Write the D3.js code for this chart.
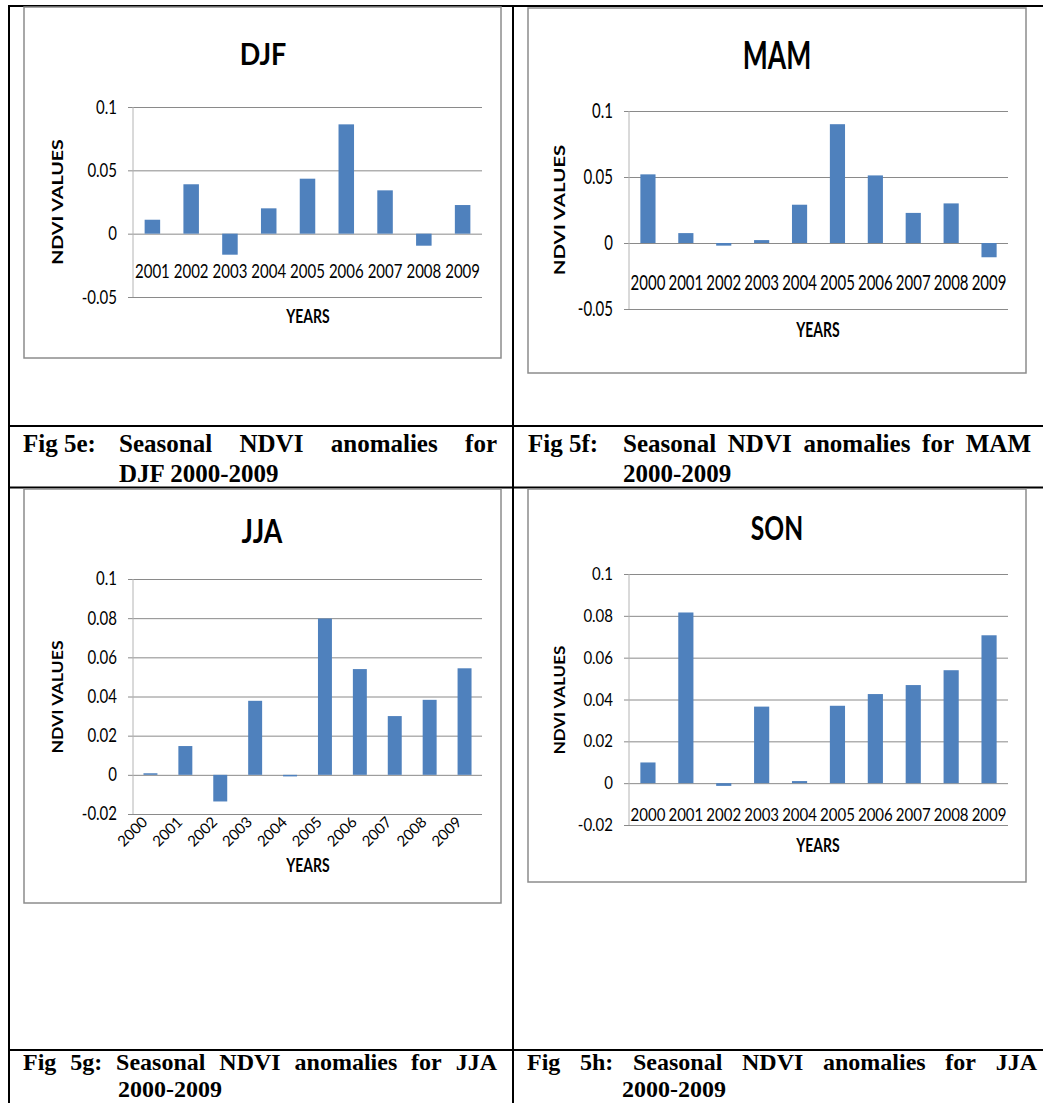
<!DOCTYPE html>
<html><head><meta charset="utf-8">
<script src="https://cdn.jsdelivr.net/npm/d3@7"></script>
<style>body{margin:0;background:#fff} svg{display:block}</style>
</head><body>
<svg id="c" width="1043" height="1103"></svg>
<script>
// ---------- DATA ----------
const djfYears = ["2001","2002","2003","2004","2005","2006","2007","2008","2009"];
const djfValues = [0.011, 0.039, -0.0166, 0.020, 0.0434, 0.0863, 0.0342, -0.0095, 0.0226];
const mamYears = ["2000","2001","2002","2003","2004","2005","2006","2007","2008","2009"];
const mamValues = [0.052, 0.0075, -0.002, 0.0022, 0.029, 0.090, 0.0512, 0.0228, 0.030, -0.0108];
const jjaYears = ["2000","2001","2002","2003","2004","2005","2006","2007","2008","2009"];
const jjaValues = [0.0008, 0.0147, -0.0136, 0.0378, -0.0008, 0.0798, 0.054, 0.030, 0.0383, 0.0544];
const sonYears = ["2000","2001","2002","2003","2004","2005","2006","2007","2008","2009"];
const sonValues = [0.0099, 0.0816, -0.0013, 0.0366, 0.001, 0.037, 0.0426, 0.0469, 0.054, 0.0707];
const djfTicks = [-0.05, 0, 0.05, 0.1];
const mamTicks = [-0.05, 0, 0.05, 0.1];
const jjaTicks = [-0.02, 0, 0.02, 0.04, 0.06, 0.08, 0.1];
const sonTicks = [-0.02, 0, 0.02, 0.04, 0.06, 0.08, 0.1];
const panelTitles = ["DJF", "MAM", "JJA", "SON"];
const xAxisTitle = "YEARS";
const yAxisTitle = "NDVI VALUES";
const captionLead = ["Fig 5e:", "Fig 5f:", "Fig 5g:", "Fig 5h:"];
const captionLine1 = ["Seasonal NDVI anomalies for", "Seasonal NDVI anomalies for MAM",
                      "Seasonal NDVI anomalies for JJA", "Seasonal NDVI anomalies for JJA"];
const captionLine2 = ["DJF 2000-2009", "2000-2009", "2000-2009", "2000-2009"];

// ---------- LAYOUT ----------
const svg = d3.select("#c");
const BAR = "#4F81BD", GRID = "#8a8a8a", AXIS = "#b4b4b4", FRAME = "#8c8c8c";

const panels = [
  {title: panelTitles[0], years: djfYears, values: djfValues, ticks: djfTicks,
   frame: [24, 7, 501, 358], left: 133, right: 482, top: 107, bottom: 297,
   sy: 1.25, titlePos: [263, 65, 27, 1.1], xLabY: 278, rot: false,
   xTitle: [308, 323, 1.35], yTitle: [63, 202, 1.31]},
  {title: panelTitles[1], years: mamYears, values: mamValues, ticks: mamTicks,
   frame: [528, 8, 1026, 373], left: 629, right: 1008, top: 111, bottom: 309,
   sy: 1.38, titlePos: [777, 69, 26.5, 1.42], xLabY: 290, rot: false,
   xTitle: [818, 337, 1.5], yTitle: [565, 210, 1.36]},
  {title: panelTitles[2], years: jjaYears, values: jjaValues, ticks: jjaTicks,
   frame: [24, 489, 501, 903], left: 133, right: 482, top: 579, bottom: 814,
   sy: 1.23, titlePos: [262, 543, 26.7, 1.2], xLabY: 814, rot: true,
   xTitle: [308, 872, 1.35], yTitle: [63, 697, 1.18]},
  {title: panelTitles[3], years: sonYears, values: sonValues, ticks: sonTicks,
   frame: [528, 489, 1026, 882], left: 629, right: 1008, top: 574, bottom: 825,
   sy: 1.17, titlePos: [777, 540, 24.6, 1.3], xLabY: 821, rot: false,
   xTitle: [818, 852, 1.3], yTitle: [565, 700, 1.13]}
];

function stext(parent, x, y, str, size, weight, sy, rotate) {
  return parent.append("text")
    .attr("transform", `translate(${x},${y}) scale(1,${sy})${rotate ? " rotate(-90)" : ""}`)
    .attr("text-anchor", "middle")
    .attr("font-family", "Lato, 'Open Sans', sans-serif")
    .attr("font-size", size).attr("font-weight", weight).attr("fill", "#000")
    .text(str);
}

function drawPanel(p) {
  const g = svg.append("g");
  g.append("rect").attr("x", p.frame[0]).attr("y", p.frame[1])
    .attr("width", p.frame[2] - p.frame[0]).attr("height", p.frame[3] - p.frame[1])
    .attr("fill", "#fff").attr("stroke", FRAME).attr("stroke-width", 1.5);

  const x = d3.scaleBand().domain(p.years).range([p.left, p.right]).paddingInner(0.6).paddingOuter(0.3);
  const y = d3.scaleLinear().domain([p.ticks[0], p.ticks[p.ticks.length - 1]]).range([p.bottom, p.top]);

  // gridlines
  const grid = g.append("g").attr("transform", `translate(${p.left},0)`)
    .call(d3.axisLeft(y).tickValues(p.ticks).tickSize(-(p.right - p.left)).tickFormat(""));
  grid.select(".domain").remove();
  grid.selectAll("line").attr("stroke", GRID).attr("stroke-width", 1);

  // bars
  g.selectAll("rect.bar").data(p.values).join("rect").attr("class", "bar")
    .attr("x", (d, i) => x(p.years[i])).attr("width", x.bandwidth())
    .attr("y", d => y(Math.max(0, d)))
    .attr("height", d => Math.abs(y(d) - y(0)))
    .attr("fill", BAR);

  // y axis (ticks + labels)
  const ya = g.append("g").attr("transform", `translate(${p.left},0)`)
    .call(d3.axisLeft(y).tickValues(p.ticks).tickSize(5).tickPadding(11).tickFormat(d => String(d)));
  ya.select(".domain").remove();
  ya.selectAll("line").attr("stroke", GRID);
  ya.selectAll("text").attr("font-family", "Lato, 'Open Sans', sans-serif").attr("font-size", 15)
    .attr("fill", "#000").attr("transform", `scale(1,${p.sy})`);
  g.append("line").attr("x1", p.left).attr("x2", p.left).attr("y1", p.top).attr("y2", p.bottom)
    .attr("stroke", AXIS).attr("stroke-width", 1);

  // x labels
  const xa = g.append("g").attr("transform", `translate(0,${p.xLabY})`)
    .call(d3.axisBottom(x).tickSize(0).tickPadding(0));
  xa.select(".domain").remove();
  const xt = xa.selectAll("text").attr("font-family", "Lato, 'Open Sans', sans-serif")
    .attr("font-size", 15).attr("fill", "#000").attr("y", 0).attr("dy", 0);
  if (p.rot) {
    xt.attr("text-anchor", "end").attr("transform", "translate(-2,9) rotate(-45)");
  } else {
    xt.attr("transform", `scale(1,${p.sy})`);
  }

  // titles
  stext(g, p.titlePos[0], p.titlePos[1], p.title, p.titlePos[2], 700, p.titlePos[3], false);
  stext(g, p.xTitle[0], p.xTitle[1], xAxisTitle, 14, 700, p.xTitle[2], false);
  stext(g, p.yTitle[0], p.yTitle[1], yAxisTitle, 15, 700, p.yTitle[2], true);
}

// ---------- TABLE ----------
const tbl = svg.append("g");
function hline(y) { tbl.append("line").attr("x1", 8).attr("x2", 1043).attr("y1", y).attr("y2", y).attr("stroke", "#000").attr("stroke-width", 2); }
function vline(x) { tbl.append("line").attr("x1", x).attr("x2", x).attr("y1", 5).attr("y2", 1103).attr("stroke", "#000").attr("stroke-width", 2); }

panels.forEach(drawPanel);
hline(6); hline(426); hline(487.5); hline(1050);
vline(9); vline(513);

// ---------- CAPTIONS ----------
const cap = svg.append("g").attr("font-family", "'Liberation Serif', 'Times New Roman', serif")
  .attr("font-weight", 700).attr("fill", "#000");
function justify(words, x0, x1, y, size) {
  const ts = words.map(w => cap.append("text").attr("y", y).attr("font-size", size).text(w));
  const widths = ts.map(t => t.node().getComputedTextLength());
  const total = d3.sum(widths);
  const gap = words.length > 1 ? (x1 - x0 - total) / (words.length - 1) : 0;
  let cx = x0;
  ts.forEach((t, i) => { t.attr("x", cx); cx += widths[i] + gap; });
}
function plain(str, x, y, size) { cap.append("text").attr("x", x).attr("y", y).attr("font-size", size).text(str); }

// 5e
plain(captionLead[0], 23, 452, 25);
justify(captionLine1[0].split(" "), 119, 497, 452, 25);
plain(captionLine2[0], 119, 482, 25);
// 5f
plain(captionLead[1], 528, 452, 25);
justify(captionLine1[1].split(" "), 623, 1031, 452, 25);
plain(captionLine2[1], 623, 482, 25);
// 5g
justify((captionLead[2] + " " + captionLine1[2]).split(" "), 23, 497, 1070, 24);
plain(captionLine2[2], 118, 1097, 24);
// 5h
justify((captionLead[3] + " " + captionLine1[3]).split(" "), 527, 1037, 1070, 24);
plain(captionLine2[3], 622, 1097, 24);
</script>
</body></html>
